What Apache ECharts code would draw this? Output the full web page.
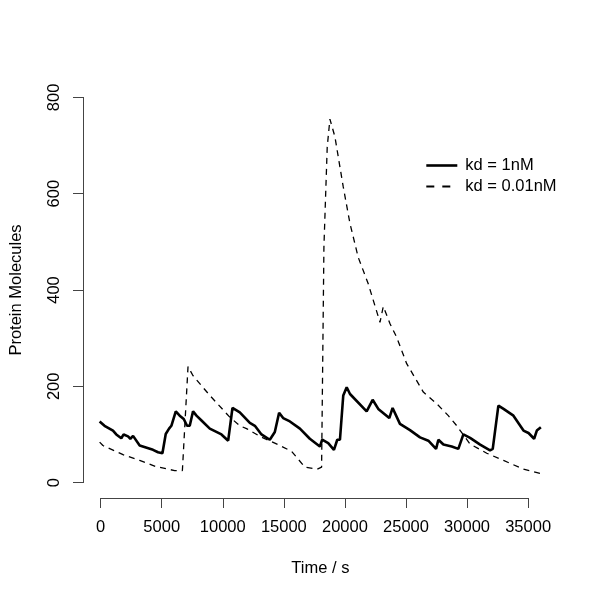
<!DOCTYPE html>
<html>
<head>
<meta charset="utf-8">
<script src="https://cdn.jsdelivr.net/npm/echarts@6/dist/echarts.min.js"></script>
<style>html,body{margin:0;padding:0;background:#fff;}#c{width:600px;height:600px;}</style>
</head>
<body>
<div id="c"></div>
<script>
// axis ticks
var xTicks = [0, 5000, 10000, 15000, 20000, 25000, 30000, 35000];
var yTicks = [0, 200, 400, 600, 800];
var xLimits = [0, 36000];
var yLimits = [0, 800];
var seriesNames = ["kd = 1nM", "kd = 0.01nM"];

// kd = 1nM (solid)
var timeSolid = [0, 400, 1090, 1360, 1770, 1960, 2320, 2510, 2730, 3270, 4360, 4770, 5130, 5400, 5670, 5860, 6220, 6540, 6870, 7140, 7360, 7630, 7910, 8320, 9000, 9950, 10500, 10850, 11450, 12270, 12680, 13220, 13900, 14310, 14660, 14990, 15540, 16360, 17170, 17990, 18180, 18670, 19140, 19410, 19630, 19900, 20180, 20450, 21810, 22300, 22760, 23660, 23930, 24530, 25350, 26170, 26850, 27480, 27670, 28080, 28760, 29300, 29710, 30260, 31080, 31890, 32110, 32570, 32990, 33800, 34620, 35030, 35490, 35710, 35850, 36040];
var valSolid = [127, 118, 108, 100, 92, 100, 96, 91, 97, 77, 68, 63, 61, 101, 112, 118, 148, 139, 132, 118, 118, 148, 139, 129, 112, 100, 87, 155, 146, 124, 118, 100, 89, 105, 145, 134, 127, 112, 91, 75, 89, 82, 68, 89, 89, 181, 198, 184, 148, 172, 153, 134, 155, 122, 109, 94, 87, 70, 89, 79, 75, 70, 100, 93, 79, 67, 70, 160, 153, 139, 108, 103, 91, 108, 105, 115];

// kd = 0.01nM (dashed)
var timeDashed = [0, 270, 1910, 3270, 4630, 6130, 6760, 7220, 7630, 9000, 10630, 11450, 12000, 13090, 14720, 15680, 16770, 17770, 18130, 18320, 18590, 18810, 19220, 19900, 20450, 21120, 21940, 22900, 23170, 23720, 24260, 25080, 26440, 27530, 28480, 29170, 30260, 31620, 32990, 34620, 35980];
var valDashed = [84, 77, 58, 46, 33, 25, 25, 241, 222, 181, 136, 118, 112, 96, 77, 65, 32, 28, 32, 489, 697, 755, 718, 614, 538, 468, 413, 333, 366, 330, 302, 247, 188, 164, 139, 118, 80, 61, 46, 28, 19];

function pairs(t, v) { return t.map(function (x, i) { return [x, v[i]]; }); }

// R-style 4% axis expansion
var xPad = (xLimits[1] - xLimits[0]) * 0.04;
var yPad = (yLimits[1] - yLimits[0]) * 0.04;

var plot = {left: 82, right: 42, top: 82, bottom: 102};
var W = 600, H = 600;
var pw = W - plot.left - plot.right, ph = H - plot.top - plot.bottom;
function xPix(v) { return plot.left + (v - (xLimits[0] - xPad)) / (xLimits[1] - xLimits[0] + 2 * xPad) * pw; }
function yPix(v) { return plot.top + ((yLimits[1] + yPad) - v) / (yLimits[1] - yLimits[0] + 2 * yPad) * ph; }
var axLeft = xPix(xTicks[0]), axRight = xPix(xTicks[xTicks.length - 1]);
var axTop = yPix(yTicks[yTicks.length - 1]), axBottom = yPix(yTicks[0]);

var font = 'Liberation Sans, Arial, Helvetica, sans-serif';
var fs = 16.5;
var chart = echarts.init(document.getElementById('c'), null, {renderer: 'canvas'});
chart.setOption({
  animation: false,
  backgroundColor: '#ffffff',
  grid: [
    {left: plot.left, right: plot.right, top: plot.top, bottom: plot.bottom},
    {left: axLeft, right: W - axRight, top: axTop, bottom: H - axBottom}
  ],
  legend: {
    orient: 'vertical', left: 420, top: 151,
    itemWidth: 31, itemHeight: 14, itemGap: 2,
    itemStyle: {opacity: 0},
    data: [
      {name: seriesNames[0], lineStyle: {width: 2.6, type: 'solid'}},
      {name: seriesNames[1], lineStyle: {width: 2, type: [8, 8]}}
    ],
    textStyle: {fontFamily: font, fontSize: fs, color: '#000', padding: [0, 0, 0, 3], lineHeight: 19}
  },
  xAxis: [
    {gridIndex: 0, type: 'value', min: xLimits[0] - xPad, max: xLimits[1] + xPad, show: false},
    {
      gridIndex: 1, type: 'value', min: xTicks[0], max: xTicks[xTicks.length - 1], interval: 5000,
      offset: plot.top + ph - axBottom,
      splitLine: {show: false},
      axisLine: {show: true, onZero: false, lineStyle: {color: '#444', width: 1}},
      axisTick: {show: true, length: 10, lineStyle: {color: '#444'}},
      axisLabel: {fontFamily: font, fontSize: fs, color: '#000', margin: 21,
        formatter: function (v) { return String(v); }},
      name: 'Time / s', nameLocation: 'middle', nameGap: 62,
      nameTextStyle: {fontFamily: font, fontSize: fs, color: '#000', padding: [0, 0, 0, 12]}
    }
  ],
  yAxis: [
    {gridIndex: 0, type: 'value', min: yLimits[0] - yPad, max: yLimits[1] + yPad, show: false},
    {
      gridIndex: 1, type: 'value', min: yTicks[0], max: yTicks[yTicks.length - 1], interval: 200,
      offset: axLeft - plot.left,
      splitLine: {show: false},
      axisLine: {show: true, onZero: false, lineStyle: {color: '#444', width: 1}},
      axisTick: {show: true, length: 10, lineStyle: {color: '#444'}},
      axisLabel: {fontFamily: font, fontSize: fs, color: '#000', margin: 20, rotate: 90,
        formatter: function (v) { return String(v); }},
      name: 'Protein Molecules', nameLocation: 'middle', nameGap: 58,
      nameTextStyle: {fontFamily: font, fontSize: fs, color: '#000'}
    }
  ],
  series: [
    {
      name: seriesNames[0], type: 'line', xAxisIndex: 0, yAxisIndex: 0,
      data: pairs(timeSolid, valSolid),
      showSymbol: false, symbol: 'none',
      lineStyle: {color: '#000', width: 2.6, type: 'solid'},
      itemStyle: {color: '#000'}
    },
    {
      name: seriesNames[1], type: 'line', xAxisIndex: 0, yAxisIndex: 0,
      data: pairs(timeDashed, valDashed),
      showSymbol: false, symbol: 'none',
      lineStyle: {color: '#000', width: 1.3, type: [6, 5]},
      itemStyle: {color: '#000'}
    }
  ]
});
</script>
</body>
</html>
